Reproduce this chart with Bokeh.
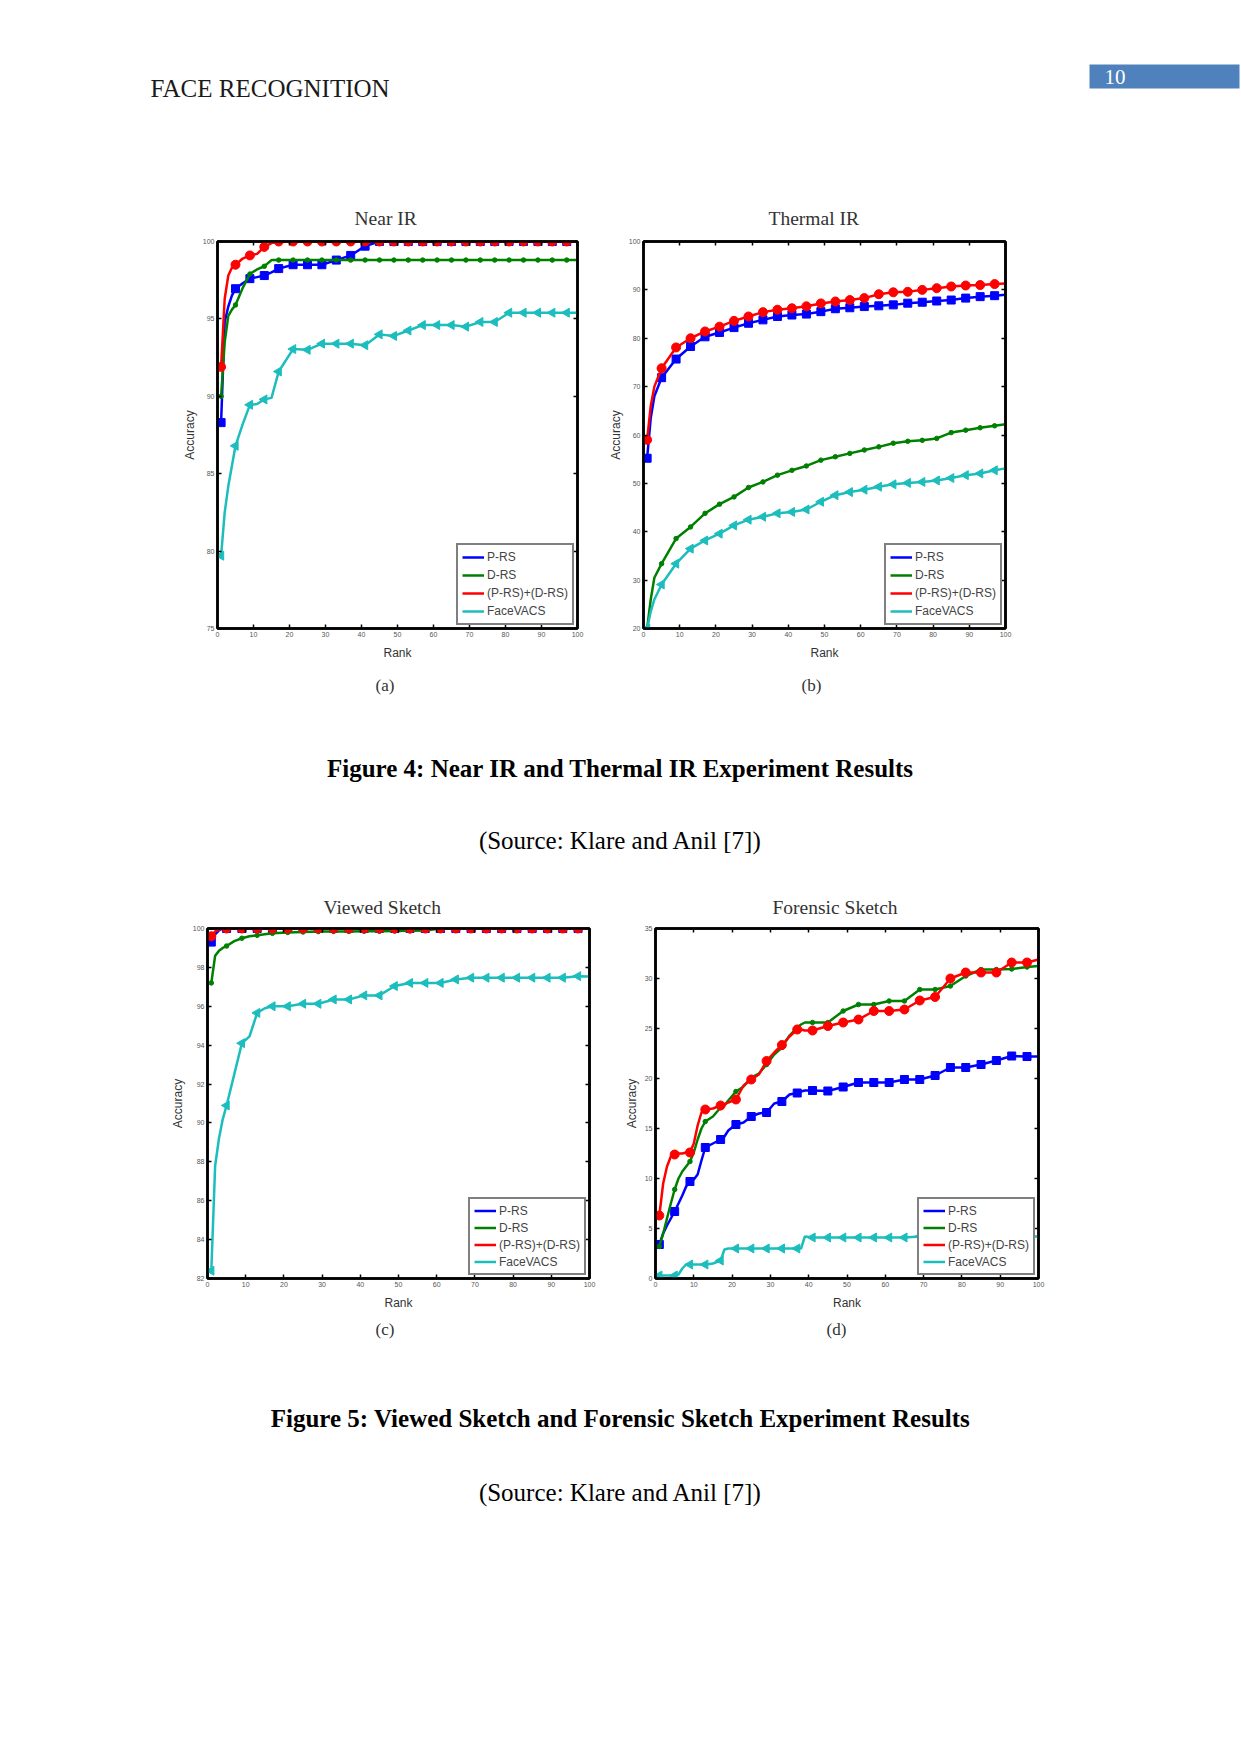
import math
from bokeh.plotting import figure
from bokeh.models import Range1d, LinearAxis, FixedTicker, Legend, LegendItem, Title, Label
from bokeh.layouts import column, row
from bokeh.embed import file_html
from bokeh.resources import INLINE

# ---------------- data ----------------
SERIES = ["P-RS", "D-RS", "(P-RS)+(D-RS)", "FaceVACS"]
X_TICKS = [0, 10, 20, 30, 40, 50, 60, 70, 80, 90, 100]

# (a) Near IR
NIR_RANK = [1, 2, 3, 4, 5, 7, 9, 11, 13, 15, 17, 21, 25, 29, 33, 37, 41, 45, 49, 53, 57,
            61, 65, 69, 73, 77, 81, 85, 89, 93, 97, 100]
NIR_PRS = [88.3, 94.8, 95.8, 96.5, 96.95, 97.3, 97.6, 97.7, 97.8, 98.0, 98.25, 98.5, 98.5,
           98.5, 98.8, 99.1, 99.7, 100, 100, 100, 100, 100, 100, 100, 100, 100, 100, 100,
           100, 100, 100, 100]
NIR_DRS = [90.0, 93.5, 95.2, 95.6, 95.9, 97.0, 97.9, 98.2, 98.4, 98.8, 98.8, 98.8, 98.8,
           98.8, 98.8, 98.8, 98.8, 98.8, 98.8, 98.8, 98.8, 98.8, 98.8, 98.8, 98.8, 98.8,
           98.8, 98.8, 98.8, 98.8, 98.8, 98.8]
NIR_COMB = [91.9, 96.3, 97.8, 98.3, 98.5, 98.9, 99.1, 99.2, 99.65, 99.9, 100, 100, 100, 100,
            100, 100, 100, 100, 100, 100, 100, 100, 100, 100, 100, 100, 100, 100, 100, 100,
            100, 100]
NIR_FV = [79.7, 82.5, 84.2, 85.5, 86.8, 88.2, 89.45, 89.5, 89.8, 89.9, 91.6, 93.05, 93.0,
          93.4, 93.4, 93.4, 93.3, 94.0, 93.9, 94.25, 94.6, 94.6, 94.6, 94.5, 94.8, 94.8,
          95.4, 95.4, 95.4, 95.4, 95.4, 95.4]
NIR_YTICKS = [75, 80, 85, 90, 95, 100]

# (b) Thermal IR
TIR_RANK = [1, 2, 3, 5, 9, 13, 17, 21, 25, 29, 33, 37, 41, 45, 49, 53, 57, 61, 65, 69, 73,
            77, 81, 85, 89, 93, 97, 100]
TIR_PRS = [55.2, 63.5, 68.0, 71.85, 75.7, 78.3, 80.3, 81.2, 82.2, 83.1, 83.8, 84.5, 84.8,
           85.0, 85.5, 86.1, 86.3, 86.55, 86.7, 86.9, 87.25, 87.45, 87.7, 87.9, 88.3, 88.6,
           88.8, 88.97]
TIR_DRS = [20.0, 26.0, 30.5, 33.4, 38.6, 41.0, 43.8, 45.7, 47.2, 49.15, 50.3, 51.7, 52.7,
           53.6, 54.8, 55.5, 56.2, 56.9, 57.55, 58.3, 58.7, 58.9, 59.3, 60.5, 61.0, 61.5,
           61.9, 62.2]
TIR_COMB = [59.0, 66.0, 70.0, 73.8, 78.1, 80.0, 81.4, 82.4, 83.6, 84.5, 85.4, 85.9, 86.2,
            86.6, 87.2, 87.6, 87.9, 88.3, 89.1, 89.5, 89.6, 90.0, 90.35, 90.7, 90.9, 91.0,
            91.2, 91.3]
TIR_FV = [20.0, 23.5, 26.0, 29.1, 33.4, 36.5, 38.2, 39.6, 41.3, 42.5, 43.1, 43.8, 44.1,
          44.6, 46.2, 47.55, 48.2, 48.7, 49.3, 49.8, 50.1, 50.3, 50.6, 51.1, 51.7, 52.05,
          52.7, 53.1]
TIR_YTICKS = [20, 30, 40, 50, 60, 70, 80, 90, 100]

# (c) Viewed Sketch
VS_RANK = [1, 2, 3, 4, 5, 7, 9, 11, 13, 15, 17, 21, 25, 29, 33, 37, 41, 45, 49, 53, 57,
           61, 65, 69, 73, 77, 81, 85, 89, 93, 97, 100]
VS_PRS = [99.3, 99.7, 99.9, 100, 100, 100, 100, 100, 100, 100, 100, 100, 100, 100, 100, 100,
          100, 100, 100, 100, 100, 100, 100, 100, 100, 100, 100, 100, 100, 100, 100, 100]
VS_DRS = [97.2, 98.6, 98.85, 99.0, 99.1, 99.35, 99.5, 99.6, 99.65, 99.7, 99.75, 99.8, 99.82,
          99.84, 99.85, 99.85, 99.86, 99.86, 99.87, 99.88, 99.9, 100, 100, 100, 100, 100, 100,
          100, 100, 100, 100, 100]
VS_COMB = [99.6, 99.85, 99.95, 100, 100, 100, 100, 100, 100, 100, 100, 100, 100, 100, 100,
           100, 100, 100, 100, 100, 100, 100, 100, 100, 100, 100, 100, 100, 100, 100, 100, 100]
VS_FV = [82.4, 87.8, 89.2, 90.2, 90.9, 92.5, 94.1, 94.45, 95.66, 95.9, 96.0, 96.0, 96.13,
         96.13, 96.35, 96.35, 96.56, 96.56, 97.04, 97.2, 97.2, 97.2, 97.38, 97.47, 97.47,
         97.47, 97.47, 97.47, 97.47, 97.47, 97.55, 97.53]
VS_YTICKS = [82, 84, 86, 88, 90, 92, 94, 96, 98, 100]

# (d) Forensic Sketch
FS_RANK = [1, 2, 3, 4, 5, 6, 7, 8, 9, 10, 11, 12, 13, 15, 17, 18, 19, 21, 23, 25, 27, 29,
           31, 33, 35, 37, 38, 39, 41, 45, 49, 53, 57, 61, 65, 69, 73, 77, 81, 85, 89, 93,
           97, 100]
FS_PRS = [3.4, 4.5, 5.3, 6.0, 6.7, 7.5, 8.3, 9.2, 9.7, 9.9, 10.4, 11.8, 13.1, 13.5, 13.9,
          14.2, 14.8, 15.4, 15.6, 16.2, 16.5, 16.6, 17.5, 17.7, 18.4, 18.55, 18.7, 18.8,
          18.8, 18.75, 19.15, 19.6, 19.6, 19.6, 19.9, 19.9, 20.3, 21.1, 21.1, 21.4, 21.8,
          22.25, 22.2, 22.2]
FS_DRS = [3.2, 4.5, 6.0, 7.5, 8.9, 10.0, 10.7, 11.2, 11.7, 12.6, 13.9, 15.0, 15.7, 16.2,
          17.1, 17.3, 17.8, 18.7, 19.2, 20.1, 20.5, 21.4, 22.4, 23.1, 24.3, 25.1, 25.4, 25.6,
          25.6, 25.6, 26.75, 27.4, 27.4, 27.75, 27.75, 28.9, 28.9, 29.25, 30.25, 30.9, 30.9,
          30.95, 31.15, 31.25]
FS_COMB = [6.3, 9.5, 11.2, 12.2, 12.4, 12.5, 12.5, 12.6, 12.6, 13.5, 15.3, 16.6, 16.9, 17.0,
           17.3, 17.4, 17.6, 17.9, 19.3, 19.9, 20.4, 21.75, 22.6, 23.35, 24.2, 24.9, 24.9,
           24.8, 24.8, 25.25, 25.6, 25.9, 26.75, 26.75, 26.9, 27.8, 28.15, 30.0, 30.6, 30.6,
           30.6, 31.6, 31.6, 31.9]
FS_FV = [0.3, 0.3, 0.3, 0.3, 0.3, 0.4, 1.0, 1.4, 1.4, 1.4, 1.4, 1.4, 1.4, 1.5, 1.8, 2.9,
         3.0, 3.0, 3.0, 3.0, 3.0, 3.0, 3.0, 3.0, 3.0, 3.0, 3.0, 4.2, 4.1, 4.1, 4.1, 4.1, 4.1,
         4.1, 4.1, 4.2, 4.2, 4.2, 4.2, 4.2, 4.2, 4.2, 4.2, 4.2]
FS_YTICKS = [0, 5, 10, 15, 20, 25, 30, 35]

# ---------------- styling ----------------
STYLE = {
    "P-RS": dict(color="#0000FF", marker="square", size=8, angle=0.0),
    "D-RS": dict(color="#008000", marker="circle", size=4.5, angle=0.0),
    "(P-RS)+(D-RS)": dict(color="#FF0000", marker="circle", size=9, angle=0.0),
    "FaceVACS": dict(color="#1CBDBD", marker="triangle", size=9, angle=math.pi / 2),
}
SERIF = "Liberation Serif"
SANS = "Liberation Sans"
PAGE_W = 1240


def style_axis(ax, ticks, show_labels=True):
    ax.ticker = FixedTicker(ticks=ticks)
    ax.major_tick_in = 4
    ax.major_tick_out = 0
    ax.minor_tick_in = 0
    ax.minor_tick_out = 0
    ax.major_tick_line_color = "black"
    ax.major_tick_line_width = 1.5
    ax.axis_line_color = "black"
    ax.axis_line_width = 2.5
    ax.major_label_text_font = SANS
    if show_labels:
        ax.major_label_text_color = "#555555"
        ax.major_label_text_font_size = "7px"
        ax.major_label_standoff = 3
    else:
        ax.major_label_text_color = None
        ax.major_label_text_font_size = "1px"
        ax.major_label_standoff = 0


def panel(title, tag, ranks, values, yr, yticks, width, height, borders,
          t_left, t_standoff, tag_left, b_standoff, legend_h, ylab_standoff):
    p = figure(width=width, height=height, x_range=Range1d(0, 100),
               y_range=Range1d(*yr), output_backend="svg", toolbar_location=None,
               min_border_left=borders[0], min_border_right=borders[1],
               min_border_top=borders[2], min_border_bottom=borders[3],
               background_fill_color="white", border_fill_color="white")
    p.grid.visible = False
    p.outline_line_color = "black"
    p.outline_line_width = 2.5
    style_axis(p.xaxis[0], X_TICKS)
    style_axis(p.yaxis[0], yticks)
    p.xaxis.axis_label = "Rank"
    p.yaxis.axis_label = "Accuracy"
    for ax in (p.xaxis[0], p.yaxis[0]):
        ax.axis_label_text_font = SANS
        ax.axis_label_text_font_size = "12px"
        ax.axis_label_text_font_style = "normal"
        ax.axis_label_text_color = "#333333"
    p.xaxis[0].axis_label_standoff = 6
    p.yaxis[0].axis_label_standoff = ylab_standoff
    ra = LinearAxis()
    style_axis(ra, yticks, show_labels=False)
    p.add_layout(ra, "right")
    ta = LinearAxis()
    style_axis(ta, X_TICKS, show_labels=False)
    p.add_layout(ta, "above")

    p.title.text = title
    p.title.align = "left"
    p.title.offset = t_left
    p.title.standoff = t_standoff
    p.title.text_font = SERIF
    p.title.text_font_size = "19.5px"
    p.title.text_font_style = "normal"
    p.title.text_color = "#333333"

    p.add_layout(Title(text=tag, align="left", offset=tag_left, standoff=b_standoff,
                       text_font=SERIF, text_font_size="17px", text_font_style="normal",
                       text_color="#333333"), "below")

    items = []
    for name, vals in zip(SERIES, values):
        st = STYLE[name]
        ln = p.line(ranks, vals, line_color=st["color"], line_width=2.5)
        mk_x = [r for r in ranks if r % 4 == 1]
        mk_y = [v for r, v in zip(ranks, vals) if r % 4 == 1]
        p.scatter(mk_x, mk_y, marker=st["marker"], size=st["size"], angle=st["angle"],
                  fill_color=st["color"], line_color=st["color"])
        items.append(LegendItem(label=name, renderers=[ln]))
    leg = Legend(items=items, location="bottom_right", margin=3, padding=4, spacing=2,
                 label_height=legend_h, glyph_height=legend_h, glyph_width=22,
                 label_standoff=3, label_text_font=SANS, label_text_font_size="12px",
                 border_line_color="black", border_line_width=2.5,
                 background_fill_color="white", background_fill_alpha=1.0)
    p.add_layout(leg)
    return p


def text_fig(height, y0):
    p = figure(width=PAGE_W, height=height, x_range=Range1d(0, PAGE_W),
               y_range=Range1d(y0 + height, y0), output_backend="svg",
               toolbar_location=None, min_border=0,
               background_fill_color="white", border_fill_color="white")
    p.axis.visible = False
    p.grid.visible = False
    p.outline_line_color = None
    return p


# header
hdr = text_fig(190, 0)
hdr.add_layout(Label(x=150, y=88, text="FACE RECOGNITION", text_font=SERIF,
                     text_font_size="25px", text_baseline="middle", text_color="#1a1a1a"))
hdr.quad(left=1089, right=1239, top=64, bottom=88, fill_color="#4F81BD", line_color=None)
hdr.add_layout(Label(x=1104, y=76, text="10", text_font=SERIF, text_font_size="21px",
                     text_baseline="middle", text_color="white"))

pa = panel("Near IR", "(a)", NIR_RANK, [NIR_PRS, NIR_DRS, NIR_COMB, NIR_FV], (75, 100),
           NIR_YTICKS, 597, 520, (217, 20, 51, 82), 137, 25, 158, 23, 16, 3)
pb = panel("Thermal IR", "(b)", TIR_RANK, [TIR_PRS, TIR_DRS, TIR_COMB, TIR_FV], (20, 100),
           TIR_YTICKS, 643, 520, (46, 235, 51, 82), 125, 25, 158, 23, 16, 3)

cap1 = text_fig(168, 710)
cap1.add_layout(Label(x=620, y=768, text="Figure 4: Near IR and Thermal IR Experiment Results",
                      text_font=SERIF, text_font_size="25px", text_font_style="bold",
                      text_align="center", text_baseline="middle", text_color="black"))
cap1.add_layout(Label(x=620, y=840, text="(Source: Klare and Anil [7])", text_font=SERIF,
                      text_font_size="25px", text_align="center", text_baseline="middle",
                      text_color="black"))

pc = panel("Viewed Sketch", "(c)", VS_RANK, [VS_PRS, VS_DRS, VS_COMB, VS_FV], (82, 100),
           VS_YTICKS, 609, 482, (207, 20, 50, 82), 116, 22, 168, 10, 15, 5)
pd = panel("Forensic Sketch", "(d)", FS_RANK, [FS_PRS, FS_DRS, FS_COMB, FS_FV], (0, 35),
           FS_YTICKS, 631, 482, (46, 202, 50, 82), 117, 22, 171, 10, 15, 3)

cap2 = text_fig(180, 1360)
cap2.add_layout(Label(x=620, y=1418,
                      text="Figure 5: Viewed Sketch and Forensic Sketch Experiment Results",
                      text_font=SERIF, text_font_size="25px", text_font_style="bold",
                      text_align="center", text_baseline="middle", text_color="black"))
cap2.add_layout(Label(x=620, y=1492, text="(Source: Klare and Anil [7])", text_font=SERIF,
                      text_font_size="25px", text_align="center", text_baseline="middle",
                      text_color="black"))

layout = column(hdr, row(pa, pb), cap1, row(pc, pd), cap2)
open("out.html", "w").write(file_html(layout, INLINE))
